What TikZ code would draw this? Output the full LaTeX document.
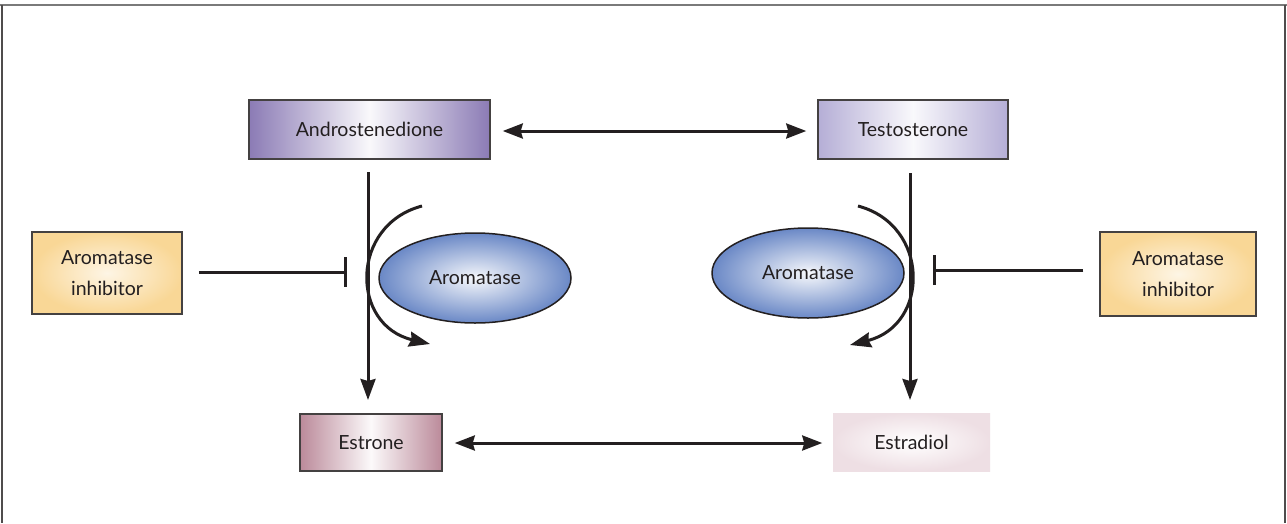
\documentclass[tikz,border=0pt]{standalone}
\usepackage{fontspec}
\setmainfont{Lato}
\usetikzlibrary{arrows.meta,shapes.geometric,calc}
\definecolor{txt}{HTML}{231F20}
\definecolor{andro}{HTML}{8B7BB5}
\definecolor{testo}{HTML}{B5AED6}
\definecolor{inhib}{HTML}{F9D796}
\definecolor{estrone}{HTML}{BB8A9A}
\definecolor{estradiol}{HTML}{EEDFE4}
\definecolor{aroma}{HTML}{6A88C6}
\definecolor{framegray}{HTML}{7A7A7A}
\tikzset{
  box/.style={rectangle, draw=txt!85, line width=1.5pt, text=txt, inner sep=0pt,
    font=\fontsize{19.5}{31}\selectfont, align=center},
  arr/.style={line width=3pt, draw=txt, -{Stealth[length=21pt,width=15pt,inset=2pt]}},
  darr/.style={line width=3pt, draw=txt, {Stealth[length=20pt,width=15pt,inset=2pt]}-{Stealth[length=20pt,width=15pt,inset=2pt]}},
  inh/.style={line width=3pt, draw=txt, -{Bar[width=30pt,line width=3pt]}},
  enz/.style={ellipse, draw=txt, line width=1.5pt, text=txt, inner sep=0pt,
    minimum width=192pt, minimum height=90pt, inner color=aroma!6, outer color=aroma,
    font=\fontsize{19.5}{24}\selectfont},
}
\begin{document}
\begin{tikzpicture}[x=1pt,y=-1pt]
\useasboundingbox (0,0) rectangle (1287,523);
\fill[white] (0,0) rectangle (1287,523);
% frame
\draw[framegray, line width=2.2pt] (0,5) -- (1287,5);
\draw[txt!80, line width=1.8pt] (2,5) -- (2,523);
\draw[txt!80, line width=1.8pt] (1285,5) -- (1285,523);
% boxes
\node[box, minimum width=241pt, minimum height=59pt, left color=andro, right color=andro, middle color=andro!5]
  (andro) at (369.5,129.5) {Androstenedione};
\node[box, minimum width=190pt, minimum height=59pt, left color=testo, right color=testo, middle color=testo!8]
  (testo) at (913,129.5) {Testosterone};
\node[box, minimum width=150pt, minimum height=82pt, inner color=inhib!25, outer color=inhib]
  (inhL) at (107,273) {Aromatase\\inhibitor};
\node[box, minimum width=156pt, minimum height=84pt, inner color=inhib!25, outer color=inhib]
  (inhR) at (1178,274) {Aromatase\\inhibitor};
\node[box, minimum width=142pt, minimum height=57pt, left color=estrone, right color=estrone, middle color=estrone!5]
  (estrone) at (371,442.5) {Estrone};
\node[box, draw=none, minimum width=157pt, minimum height=58pt, inner color=white, outer color=estradiol]
  (estradiol) at (911.5,442) {Estradiol};
% enzymes
\node[enz] (aroL) at (475,278) {Aromatase};
\node[enz] (aroR) at (808,273) {Aromatase};
% coordinates
\coordinate (lTop) at (368,172);
\coordinate (lBot) at (368,400);
\coordinate (rTop) at (910,173);
\coordinate (rBot) at (910,400);
\coordinate (lBar) at (347,272);
\coordinate (rBar) at (933,270);
\coordinate (lcS) at (422,206);
\coordinate (lcE) at (430,344);
\coordinate (rcS) at (858,206);
\coordinate (rcE) at (850,345);
% connectors
\draw[darr] ($(andro.east)+(12,1.5)$) -- ($(testo.west)+(-11,1.5)$);
\draw[arr] (lTop) -- (lBot);
\draw[arr] (rTop) -- (rBot);
\draw[inh] ($(inhL.east)+(16,-1)$) -- (lBar);
\draw[inh] ($(inhR.west)+(-16,-4)$) -- (rBar);
\draw[arr] (lcS) .. controls (350,225) and (350,325) .. (lcE);
\draw[arr] (rcS) .. controls (930,225) and (930,325) .. (rcE);
\draw[darr] ($(estrone.east)+(12,0.5)$) -- ($(estradiol.west)+(-10,1)$);
\end{tikzpicture}
\end{document}
